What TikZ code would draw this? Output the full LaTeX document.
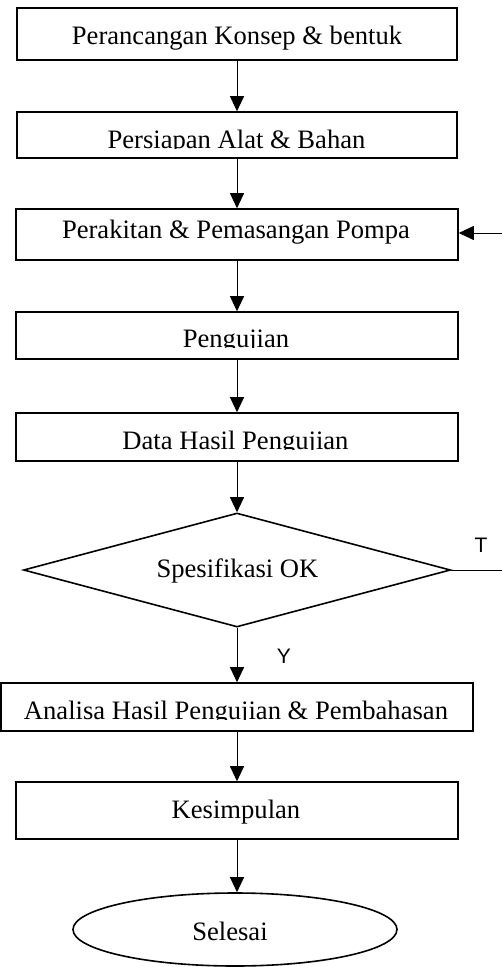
\documentclass[tikz,border=0pt]{standalone}
\usepackage{fontspec}
\setmainfont{Liberation Serif}
\newfontfamily\lsans{Liberation Sans}
\usetikzlibrary{shapes.geometric,arrows.meta}
\tikzset{
  box/.style={draw, line width=1.6pt, rectangle, inner sep=0pt},
  txt/.style={inner sep=0pt, anchor=base, font=\fontsize{26.6}{30}\selectfont},
  lbl/.style={inner sep=0pt, anchor=base, font=\lsans\fontsize{21}{24}\selectfont},
  arr/.style={line width=1pt, -{Triangle[length=15pt,width=14pt]}},
  plain/.style={line width=1pt}
}
\begin{document}
\begin{tikzpicture}[x=1pt,y=-1pt]
\useasboundingbox (0,0) rectangle (502,967);
% boxes
\node[box, minimum width=440pt, minimum height=52pt] (b1) at (237,34) {};
\node[box, minimum width=440pt, minimum height=46pt] (b2) at (237,135) {};
\node[box, minimum width=442pt, minimum height=51pt] (b3) at (237,234.5) {};
\node[box, minimum width=442pt, minimum height=47pt] (b4) at (237,335.5) {};
\node[box, minimum width=442pt, minimum height=48pt] (b5) at (237,437) {};
\node[draw, line width=1.6pt, diamond, aspect=3.75, inner sep=0pt, minimum width=427pt, minimum height=114pt] (dec) at (237,570) {};
\node[box, minimum width=472pt, minimum height=48pt] (b6) at (237,707) {};
\node[box, minimum width=442pt, minimum height=57pt] (b7) at (237,810.5) {};
\node[draw, line width=1.6pt, ellipse, inner sep=0pt, minimum width=324pt, minimum height=73pt] (end) at (235,929.5) {};
% texts
\node[txt] (t1) at (237,44) {Perancangan Konsep \& bentuk};
\begin{scope}
\clip (0,100) rectangle (502,148);
\node[txt] (t2) at (236.5,148) {Persiapan Alat \& Bahan};
\end{scope}
\node[txt] (t3) at (236,238) {Perakitan \& Pemasangan Pompa};
\begin{scope}
\clip (0,300) rectangle (502,347);
\node[txt] (t4) at (236,347) {Pengujian};
\end{scope}
\begin{scope}
\clip (0,400) rectangle (502,449);
\node[txt] (t5) at (235.5,449) {Data Hasil Pengujian};
\end{scope}
\node[txt] (t6) at (237.5,577) {Spesifikasi OK};
\begin{scope}
\clip (0,670) rectangle (502,719);
\node[txt] (t7) at (236,719) {Analisa Hasil Pengujian \& Pembahasan};
\end{scope}
\node[txt] (t8) at (236,818) {Kesimpulan};
\node[txt] (t9) at (230,940) {Selesai};
% labels
\node[lbl] (lT) at (481,552) {T};
\node[lbl] (lY) at (284,663) {Y};
% connectors
\draw[arr] (b1.south) -- (b2.north);
\draw[arr] (b2.south) -- (b3.north);
\draw[arr] (b3.south) -- (b4.north);
\draw[arr] (b4.south) -- (b5.north);
\draw[arr] (b5.south) -- (dec.north);
\draw[arr] (dec.south) -- (b6.north);
\draw[arr] (b6.south) -- (b7.north);
\draw[arr] (b7.south) -- (b7.south |- end.north);
\coordinate (fb) at (502,233);
\draw[arr] (fb) -- (b3.east |- fb);
\coordinate (tr) at (502,570);
\draw[plain] (dec.east) -- (tr);
\end{tikzpicture}
\end{document}
